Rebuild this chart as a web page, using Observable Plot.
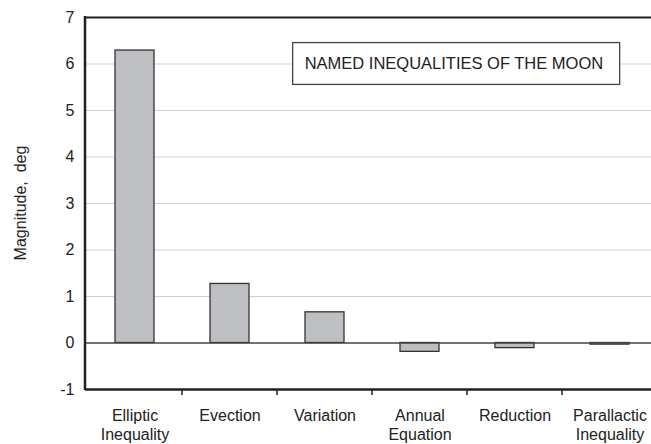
<!DOCTYPE html>
<html><head><meta charset="utf-8">
<script src="https://cdn.jsdelivr.net/npm/d3@7"></script>
<script src="https://cdn.jsdelivr.net/npm/@observablehq/plot@0.6"></script>
<style>
html,body{margin:0;padding:0;background:#fff;overflow:hidden;}
svg{display:block;}
</style>
</head><body>
<div id="chart"></div>
<script>
const categories = ["Elliptic\nInequality", "Evection", "Variation", "Annual\nEquation", "Reduction", "Parallactic\nInequality"];
const magnitudes = [6.29, 1.27, 0.66, -0.19, -0.11, -0.035];
const yTicks = [-1, 0, 1, 2, 3, 4, 5, 6, 7];
const gridTicks = [1, 2, 3, 4, 5, 6];
const title = "NAMED INEQUALITIES OF THE MOON";
const yLabel = "Magnitude,  deg";

const data = categories.map((c, i) => ({category: c, value: magnitudes[i]}));

const chart = Plot.plot({
  width: 651,
  height: 444,
  marginLeft: 85,
  marginRight: 0,
  marginTop: 17,
  marginBottom: 55,
  style: {fontFamily: "Liberation Sans, Arial, sans-serif", fontSize: "16px", color: "#222", background: "#fff"},
  x: {domain: categories, range: [85, 658], paddingInner: 0.59, paddingOuter: 0.295, align: 0.5, axis: null},
  y: {domain: [-1, 7], axis: null},
  marks: [
    Plot.ruleY(gridTicks, {stroke: "#d2d2d2", strokeWidth: 1.2}),
    Plot.barY(data, {x: "category", y: "value", fill: "#bebfc3", stroke: "#333", strokeWidth: 1.3}),
    Plot.ruleY([0], {stroke: "#444", strokeWidth: 1.5}),
    Plot.ruleY([7], {stroke: "#222", strokeWidth: 2.2}),
    Plot.ruleY([-1], {stroke: "#222", strokeWidth: 2.5}),
    Plot.axisY({ticks: yTicks, tickSize: 0, tickPadding: 11, label: null, fontSize: 16, fill: "#222", tickFormat: d => String(d)}),
    Plot.text(categories, {x: d => d, frameAnchor: "bottom", dy: 18, lineHeight: 1.2, lineAnchor: "top", text: d => d, fontSize: 16, fill: "#222"})
  ]
});

const xs = chart.scale("x");
const ys = chart.scale("y");
const svg = d3.select(chart);
const bw = xs.step;
const x0 = xs.range[0];
// left axis line
svg.append("line").attr("x1", x0).attr("x2", x0).attr("y1", ys.apply(7) - 1).attr("y2", ys.apply(-1) + 1)
  .attr("stroke", "#222").attr("stroke-width", 2.5);
// band boundary ticks under bottom axis
for (let i = 1; i < categories.length; i++) {
  const mid = (xs.apply(categories[i - 1]) + xs.bandwidth + xs.apply(categories[i])) / 2;
  svg.append("line").attr("x1", mid).attr("x2", mid).attr("y1", ys.apply(-1)).attr("y2", ys.apply(-1) + 6)
    .attr("stroke", "#222").attr("stroke-width", 1.5);
}
// y label
svg.append("text").attr("transform", `translate(26,${(ys.apply(7) + ys.apply(-1)) / 2}) rotate(-90)`)
  .attr("text-anchor", "middle").attr("font-size", 16).attr("fill", "#222").text(yLabel);
// title box
const boxX = xs.apply(categories[2]) - 0.13 * bw;
svg.append("rect").attr("x", boxX).attr("y", ys.apply(6.45))
  .attr("width", 327).attr("height", ys.apply(5.55) - ys.apply(6.45))
  .attr("fill", "#fff").attr("stroke", "#444").attr("stroke-width", 1.3);
svg.append("text").attr("x", boxX + 12).attr("y", ys.apply(6.0) + 5.5)
  .attr("text-anchor", "start").attr("font-size", 16.5).attr("fill", "#222").text(title);

document.getElementById("chart").appendChild(chart);
</script>
</body></html>
